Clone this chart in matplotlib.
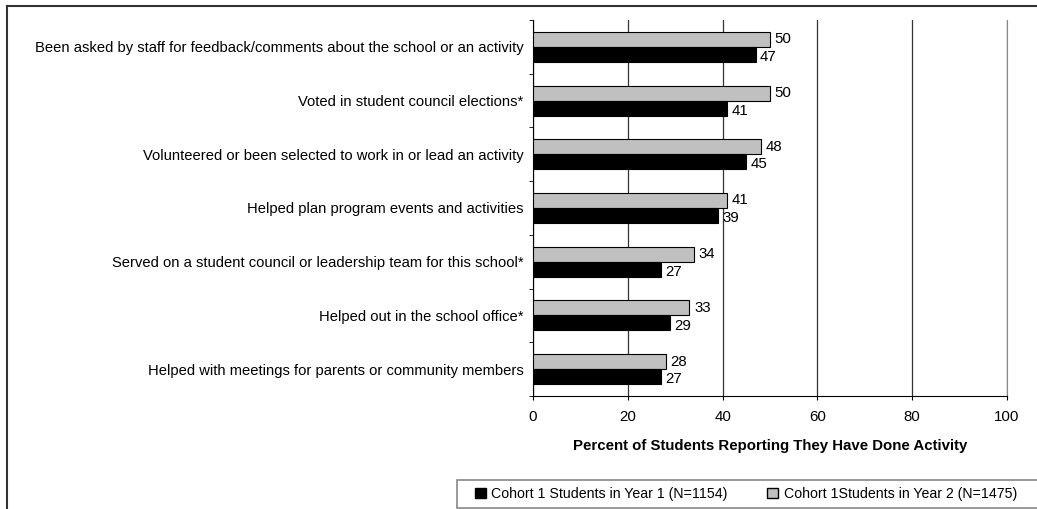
import numpy as np
import matplotlib.pyplot as plt
from matplotlib.patches import Patch, Rectangle
from matplotlib.lines import Line2D

plt.rcParams['font.family'] = ['Liberation Sans', 'DejaVu Sans']

activities = [
    "Been asked by staff for feedback/comments about the school or an activity",
    "Voted in student council elections*",
    "Volunteered or been selected to work in or lead an activity",
    "Helped plan program events and activities",
    "Served on a student council or leadership team for this school*",
    "Helped out in the school office*",
    "Helped with meetings for parents or community members",
]
year2 = [50, 50, 48, 41, 34, 33, 28]
year1 = [47, 41, 45, 39, 27, 29, 27]
year1_label = "Cohort 1 Students in Year 1 (N=1154)"
year2_label = "Cohort 1Students in Year 2 (N=1475)"

W, H = 1037, 509
fig = plt.figure(figsize=(W / 100, H / 100), dpi=100)
ax = fig.add_axes([533 / W, 113 / H, 474 / W, 376 / H])

y = np.arange(len(activities))
h = 0.28
ax.barh(y - h / 2, year2, height=h, color="#c0c0c0", edgecolor="black", linewidth=0.8, zorder=3)
ax.barh(y + h / 2, year1, height=h, color="black", edgecolor="black", linewidth=0.8, zorder=3)

for i in range(len(activities)):
    ax.text(year2[i] + 1, y[i] - h / 2, str(year2[i]), va="center", ha="left", fontsize=10.8, zorder=4)
    ax.text(year1[i] + 0.9, y[i] + h / 2 + 0.05, str(year1[i]), va="center", ha="left", fontsize=10.8, zorder=4)

ax.set_xlim(0, 100)
ax.set_ylim(len(activities) - 0.5, -0.5)
ax.set_xticks([0, 20, 40, 60, 80, 100])
ax.tick_params(axis="x", labelsize=10.8, length=3, direction="out", pad=7)
ax.set_yticks(y)
ax.set_yticklabels(activities, fontsize=10.6)
ax.tick_params(axis="y", which="major", length=0, pad=7)
ax.set_yticks(np.arange(len(activities) + 1) - 0.5, minor=True)
ax.tick_params(axis="y", which="minor", length=3, direction="out")

ax.xaxis.grid(True, color="#333333", linewidth=0.9, zorder=0)
ax.spines["top"].set_visible(False)
ax.spines["right"].set_color("#888888")
ax.spines["left"].set_color("black")
ax.spines["bottom"].set_color("black")

ax.set_xlabel("Percent of Students Reporting They Have Done Activity", fontsize=10.8,
              fontweight="bold", labelpad=11)

# outer chart frame (top and left edges)
fig.add_artist(Line2D([7 / W, 7 / W], [0, 1 - 6 / H], color="#333333", linewidth=1.5))
fig.add_artist(Line2D([7 / W, 1], [1 - 6 / H, 1 - 6 / H], color="#333333", linewidth=1.5))

# legend box runs off the right edge
fig.add_artist(Rectangle((457 / W, 1.5 / H), 600 / W, 27.5 / H, transform=fig.transFigure,
                         facecolor="white", edgecolor="#888888", linewidth=1.2))
handles = [Patch(facecolor="black", edgecolor="black"),
           Patch(facecolor="#c0c0c0", edgecolor="black")]
leg = fig.legend(handles, [year1_label, year2_label], loc="center left",
                 bbox_to_anchor=(468 / W, 15 / H), ncol=2, fontsize=10.2,
                 frameon=False, handlelength=0.75, handleheight=0.75,
                 handletextpad=0.4, columnspacing=2.8, borderpad=0.0)

fig.savefig("out.png", dpi=100)
